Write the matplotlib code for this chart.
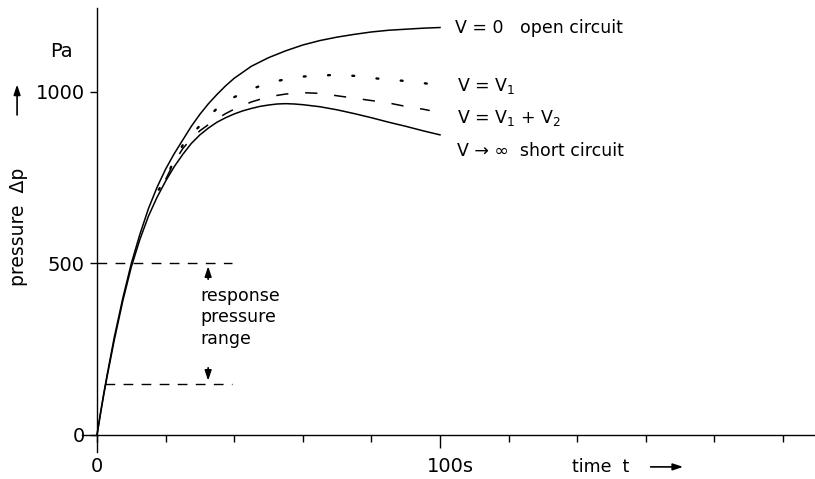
import numpy as np
import matplotlib.pyplot as plt

# values (time in s, pressure in Pa)
t_open = [0, 1, 2, 3, 5, 7.5, 10, 12.5, 15, 17.5, 20, 22.5, 25, 27.5, 30, 32.5, 35, 37.5, 40,
          45, 50, 55, 60, 65, 70, 75, 80, 85, 90, 95, 100]
p_open = [0, 63, 123, 178, 283, 398, 500, 585, 660, 722, 775, 820, 860, 900, 935, 966, 993, 1018, 1040,
          1075, 1100, 1120, 1137, 1150, 1160, 1168, 1175, 1180, 1183, 1186, 1188]

t_short = [0, 1, 2, 3, 5, 7.5, 10, 12.5, 15, 17.5, 20, 22.5, 25, 27.5, 30, 32.5, 35, 37.5, 40,
           42.5, 45, 47.5, 50, 52.5, 55, 57.5, 60, 65, 70, 75, 80, 85, 90, 95, 100]
p_short = [0, 61, 119, 173, 275, 390, 490, 570, 638, 693, 740, 782, 818, 850, 875, 895, 912, 925, 936,
           945, 952, 958, 962, 965, 966, 965, 963, 957, 948, 937, 925, 912, 900, 887, 875]

t_v1 = [18, 20, 22.5, 25, 27.5, 30, 32.5, 35, 37.5, 40, 45, 50, 55, 60, 65, 70, 75, 80, 85, 90, 95, 100]
p_v1 = [715, 748, 800, 845, 875, 902, 928, 952, 970, 985, 1008, 1027, 1037, 1045, 1048, 1050, 1047,
        1041, 1036, 1032, 1026, 1020]

t_v12 = [20, 22.5, 25, 27.5, 30, 32.5, 35, 37.5, 40, 45, 50, 55, 60, 65, 70, 75, 80, 85, 90, 95, 97]
p_v12 = [745, 795, 835, 864, 887, 905, 922, 937, 950, 971, 986, 994, 998, 996, 989, 982, 975, 968,
         958, 950, 946]

range_lo = 150
range_hi = 500
x_ticks = [0, 20, 40, 60, 80, 120, 140, 160, 180, 200]
y_ticks = [0, 500, 1000]
y_labels = ['0', '500', '1000']

plt.rcParams['font.family'] = ['DejaVu Sans']
fs = 12.5

fig = plt.figure(figsize=(8.15, 4.79), dpi=100)
ax = fig.add_axes([0, 0, 1, 1])
ax.set_xlim(-28.28, 209.33)
ax.set_ylim(-128.3, 1268.2)

for s in ['top', 'right']:
    ax.spines[s].set_visible(False)
ax.spines['left'].set_position(('data', 0))
ax.spines['bottom'].set_position(('data', 0))
ax.spines['left'].set_bounds(-50, 1245)
ax.spines['bottom'].set_bounds(-4.4, 209.33)
ax.spines['left'].set_linewidth(1.0)
ax.spines['bottom'].set_linewidth(1.0)

ax.set_xticks(x_ticks)
ax.set_xticks([100], minor=True)
ax.set_xticklabels([])
ax.tick_params(axis='x', which='major', direction='out', length=5, width=1)
ax.tick_params(axis='x', which='minor', direction='out', length=9, width=1)
ax.set_yticks(y_ticks)
ax.set_yticklabels(y_labels, fontsize=14)
ax.tick_params(axis='y', direction='out', length=5, width=1, pad=4)

ax.plot(t_open, p_open, color='black', lw=1.1)
ax.plot(t_short, p_short, color='black', lw=1.1)
ax.plot(t_v1, p_v1, color='black', lw=1.7, linestyle=(0, (0.8, 9.5)), dash_capstyle='round')
ax.plot(t_v12, p_v12, color='black', lw=1.1, linestyle=(0, (8, 11)))

# response pressure range
ax.plot([0, 39.4], [range_hi, range_hi], color='black', lw=1.0, linestyle=(0, (7, 6)))
ax.plot([2.3, 39.4], [range_lo, range_lo], color='black', lw=1.0, linestyle=(0, (7, 6)))
aprops = dict(arrowstyle='-|>,head_length=0.6,head_width=0.2', color='black', lw=1.2)
ax.annotate('', xy=(32.4, range_hi), xytext=(32.4, 446), arrowprops=aprops)
ax.annotate('', xy=(32.4, range_lo), xytext=(32.4, 204), arrowprops=aprops)
ax.text(30, 432, 'response\npressure\nrange', fontsize=fs, va='top', ha='left', linespacing=1.25)

# curve labels
ax.text(104.4, 1187, 'V = 0   open circuit', fontsize=fs, va='center', ha='left')
ax.text(104.9, 1017, 'V = V$_1$', fontsize=fs, va='center', ha='left')
ax.text(104.9, 924, 'V = V$_1$ + V$_2$', fontsize=fs, va='center', ha='left')
ax.text(104.9, 828, 'V \u2192 \u221e  short circuit', fontsize=fs, va='center', ha='left')

# axis labels
ax.text(-10.5, 1117, 'Pa', fontsize=14, va='center', ha='center')
ax.annotate('', xy=(-23.3, 1030), xytext=(-23.3, 925), arrowprops=aprops)
ax.text(-23.0, 606, 'pressure  \u0394p', fontsize=fs + 1, rotation=90, va='center', ha='center')
ax.text(0, -93, '0', fontsize=14, va='center', ha='center')
ax.text(102.9, -93, '100s', fontsize=14, va='center', ha='center')
ax.text(138.5, -93, 'time  t', fontsize=fs, va='center', ha='left')
ax.annotate('', xy=(171.7, -93), xytext=(160.6, -93), arrowprops=aprops)

fig.savefig('out.png', dpi=100)
